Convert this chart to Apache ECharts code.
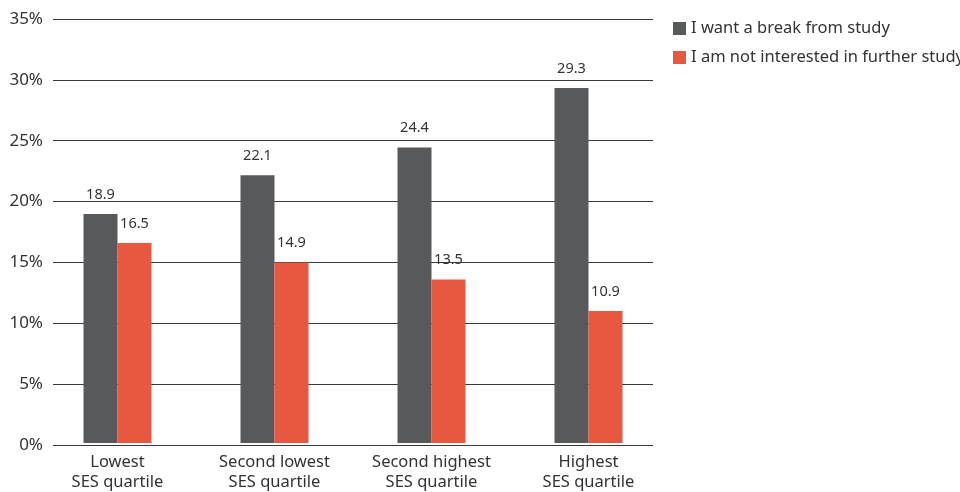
<!DOCTYPE html>
<html><head><meta charset="utf-8">
<script src="https://cdn.jsdelivr.net/npm/echarts@6/dist/echarts.min.js"></script>
<style>html,body{margin:0;padding:0;background:#fff}#c{width:960px;height:492px}</style>
</head><body><div id="c"></div>
<script>
const categories = ["Lowest\nSES quartile", "Second lowest\nSES quartile", "Second highest\nSES quartile", "Highest\nSES quartile"];
const seriesNames = ["I want a break from study", "I am not interested in further study"];
const breakFromStudy = [18.9, 22.1, 24.4, 29.3];
const notInterested = [16.5, 14.9, 13.5, 10.9];
const yTicks = [0, 5, 10, 15, 20, 25, 30, 35];

const FONT = "Noto Sans";
const chart = echarts.init(document.getElementById('c'), null, {renderer: 'canvas'});
const labelStyle = {show: true, position: 'top', distance: 12, color: '#333', fontSize: 14.5, fontFamily: FONT};
chart.setOption({
  animation: false,
  textStyle: {fontFamily: FONT},
  legend: {
    orient: 'vertical', left: 668, top: 15, itemWidth: 13, itemHeight: 13, itemGap: 12,
    icon: 'rect',
    textStyle: {fontSize: 16.5, lineHeight: 16, color: '#333', fontFamily: FONT, padding: [0, 0, 0, 0]},
    data: seriesNames
  },
  grid: [
    {left: 53, width: 600, top: 19, height: 426, containLabel: false},
    {left: 39, width: 628, top: 19, height: 426, containLabel: false}
  ],
  xAxis: [
    {type: 'category', gridIndex: 0, data: categories, show: false},
    {type: 'category', gridIndex: 1, data: categories,
      axisLine: {show: false}, axisTick: {show: false},
      axisLabel: {fontSize: 16.5, color: '#333', fontFamily: FONT, margin: 9, lineHeight: 20}}
  ],
  yAxis: [
    {type: 'value', gridIndex: 0, min: 0, max: 35, interval: 5,
      axisLine: {show: false}, axisTick: {show: false},
      splitLine: {lineStyle: {color: '#3a3a3a', width: 1}},
      axisLabel: {formatter: v => yTicks.includes(v) ? v + '%' : '', fontSize: 17, color: '#333', fontFamily: FONT, margin: 10}},
    {type: 'value', gridIndex: 1, min: 0, max: 35, interval: 5, show: false, splitLine: {show: false}}
  ],
  series: [
    {name: seriesNames[0], type: 'bar', xAxisIndex: 1, yAxisIndex: 1, data: breakFromStudy,
      barWidth: 34, barGap: '0%', itemStyle: {color: '#58595b'}, label: labelStyle},
    {name: seriesNames[1], type: 'bar', xAxisIndex: 1, yAxisIndex: 1, data: notInterested,
      barWidth: 34, barGap: '0%', itemStyle: {color: '#e8573f'}, label: labelStyle}
  ]
});
</script></body></html>
